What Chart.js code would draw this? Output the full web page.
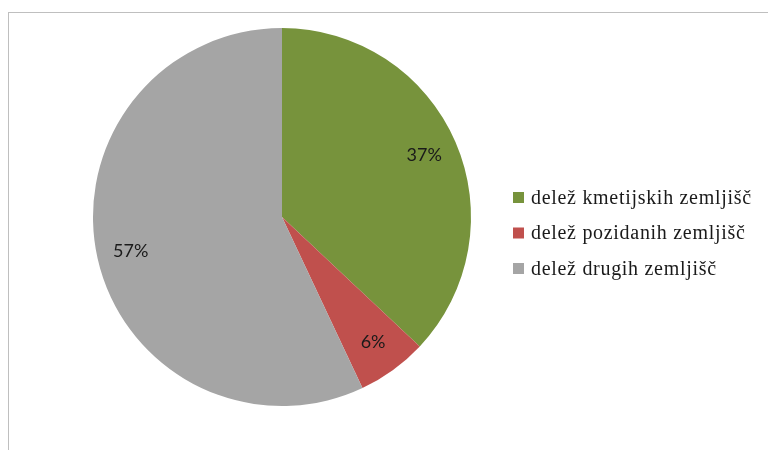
<!doctype html>
<html lang="sl">
  <head>
    <meta charset="utf-8">
    <title>Deleži zemljišč</title>
    <script src="https://cdn.jsdelivr.net/npm/chart.js"></script>
    <style>
      html, body { margin: 0; padding: 0; background: #fff; }
      #frame {
        position: absolute; left: 8px; top: 12px; width: 760px; height: 438px;
        border-top: 1px solid #bfbfbf; border-left: 1px solid #bfbfbf;
      }
      #wrap { position: absolute; left: 0; top: 0; width: 768px; height: 450px; }
    </style>
  </head>
  <body>
    <div id="frame"></div>
    <div id="wrap"><canvas id="pieChart"></canvas></div>

    <script>
      // data
      var labels = ["delež kmetijskih zemljišč", "delež pozidanih zemljišč", "delež drugih zemljišč"];
      var values = [37, 6, 57];
      var colors = ["#77933c", "#c0504d", "#a5a5a5"];

      // percent labels inside the slices
      var sliceLabels = {
        id: "sliceLabels",
        afterDatasetsDraw: function(chart) {
          var ctx = chart.ctx;
          var meta = chart.getDatasetMeta(0);
          ctx.save();
          ctx.font = "18px Lato";
          ctx.fillStyle = "#1a1a1a";
          ctx.textAlign = "center";
          ctx.textBaseline = "middle";
          meta.data.forEach(function(arc, i) {
            var mid = (arc.startAngle + arc.endAngle) / 2;
            var r = arc.outerRadius * 0.82;
            ctx.fillText(values[i] + "%", arc.x + Math.cos(mid) * r, arc.y + Math.sin(mid) * r);
          });
          ctx.restore();
        }
      };

      // legend on the right, drawn by hand
      var sideLegend = {
        id: "sideLegend",
        afterDraw: function(chart) {
          var ctx = chart.ctx;
          var x = 513, y0 = 197.5, step = 35.5;
          ctx.save();
          ctx.font = "20px 'Liberation Serif'";
          ctx.letterSpacing = "0.7px";
          ctx.textBaseline = "middle";
          labels.forEach(function(lab, i) {
            var y = y0 + i * step;
            ctx.fillStyle = colors[i];
            ctx.fillRect(x, y - 5.5, 11, 11);
            ctx.fillStyle = "#1a1a1a";
            ctx.fillText(lab, x + 18, y + 1);
          });
          ctx.restore();
        }
      };

      new Chart(document.getElementById("pieChart"), {
        type: "pie",
        data: {
          labels: labels,
          datasets: [{
            data: values,
            backgroundColor: colors,
            borderWidth: 0
          }]
        },
        options: {
          responsive: true,
          maintainAspectRatio: false,
          animation: false,
          layout: { padding: { left: 93, right: 297, top: 28, bottom: 44 } },
          plugins: {
            legend: { display: false },
            tooltip: { enabled: false }
          }
        },
        plugins: [sliceLabels, sideLegend]
      });
    </script>
  </body>
</html>
